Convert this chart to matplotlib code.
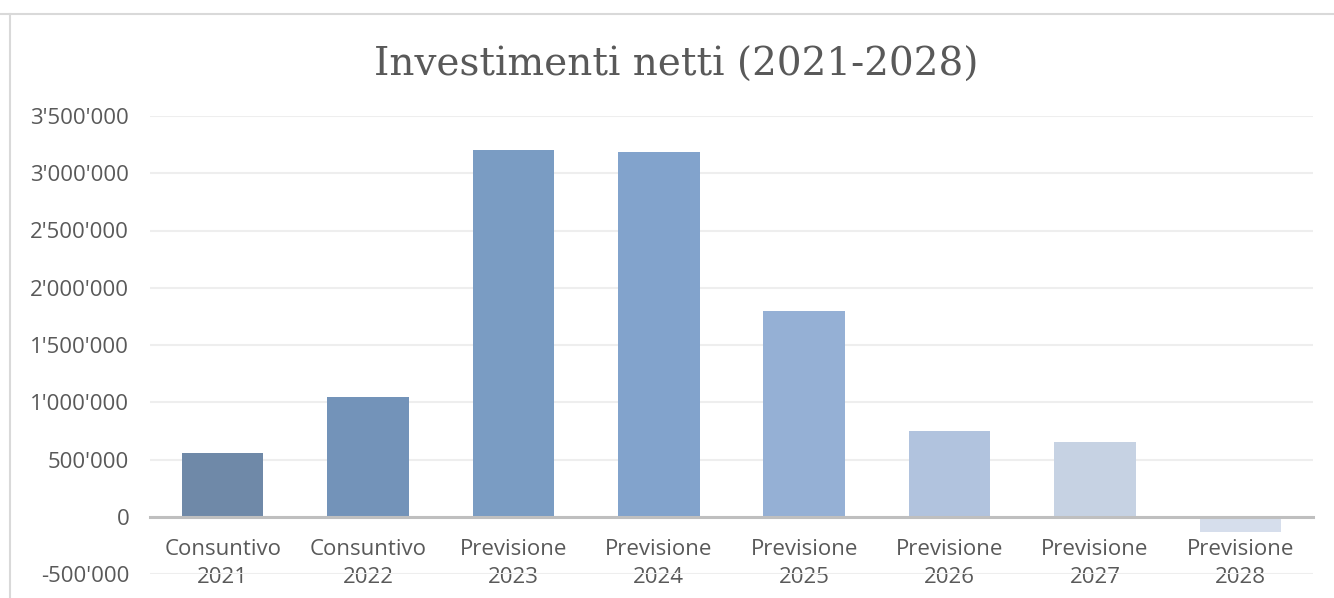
import matplotlib
matplotlib.use("Agg")
import matplotlib.pyplot as plt
from matplotlib.ticker import FuncFormatter, MultipleLocator
from matplotlib.lines import Line2D

categories = ["Consuntivo\n2021", "Consuntivo\n2022", "Previsione\n2023", "Previsione\n2024",
              "Previsione\n2025", "Previsione\n2026", "Previsione\n2027", "Previsione\n2028"]
values = [560000, 1050000, 3200000, 3185000, 1800000, 752000, 656000, -131000]
colors = ["#6f89a8", "#7393b9", "#7a9cc3", "#82a3cc", "#95b0d5", "#b1c3de", "#c6d2e3", "#d6deec"]
title = "Investimenti netti (2021-2028)"

W, H = 1334, 598
fig = plt.figure(figsize=(W / 100, H / 100), dpi=100)
fig.patch.set_facecolor("white")

ax = fig.add_axes([150 / W, 1 - 574 / H, (1313 - 150) / W, (574 - 116) / H])
x = list(range(len(categories)))
ax.bar(x, values, width=0.56, color=colors, zorder=2)
ax.set_xlim(-0.5, len(categories) - 0.5)
ax.set_ylim(-500000, 3500000)
ax.yaxis.set_major_locator(MultipleLocator(500000))
ax.yaxis.set_major_formatter(FuncFormatter(lambda v, p: f"{int(round(v)):,}".replace(",", "'")))
ax.grid(axis="y", color="#eeeeee", linewidth=1.5, zorder=0)
for s in ["top", "right", "left"]:
    ax.spines[s].set_visible(False)
ax.spines["bottom"].set_position(("data", 0))
ax.spines["bottom"].set_color("#bfbfbf")
ax.spines["bottom"].set_linewidth(2.2)
ax.spines["bottom"].set_zorder(3)
ax.set_xticks(x)
ax.set_xticklabels(categories, fontfamily="Open Sans", fontsize=16, color="#595959", linespacing=1.45)
ax.tick_params(axis="x", length=0, pad=16)
ax.tick_params(axis="y", length=0, pad=15, labelsize=16, labelcolor="#595959")
for lab in ax.get_yticklabels():
    lab.set_fontfamily("Open Sans")

fig.text(676 / W, 1 - 65 / H, title, ha="center", va="center", fontsize=28,
         fontfamily="DejaVu Serif", color="#595959")

fig.add_artist(Line2D([0, 1], [1 - 14 / H, 1 - 14 / H], transform=fig.transFigure, color="#d9d9d9", lw=1.5))
fig.add_artist(Line2D([10 / W, 10 / W], [0, 1 - 14 / H], transform=fig.transFigure, color="#d9d9d9", lw=1.5))

fig.savefig("out.png", dpi=100, facecolor="white")
